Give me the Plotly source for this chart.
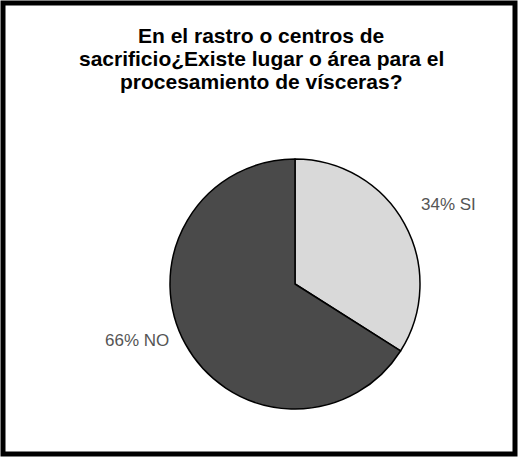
import math
import plotly.graph_objects as go

# Survey answers and their shares
labels = ["SI", "NO"]
values = [34, 66]
slice_colors = ["#d9d9d9", "#4a4a4a"]

title_lines = [
    "En el rastro o centros de",
    "sacrificio¿Existe lugar o área para el",
    "procesamiento de vísceras?",
]

W, H = 518, 457
FONT = "Liberation Sans, Arial"

# Pie placement in pixels
CX, CY, R = 295, 284, 125
LABEL_R = 142

fig = go.Figure(
    go.Pie(
        labels=labels,
        values=values,
        sort=False,
        direction="clockwise",
        rotation=0,
        marker=dict(colors=slice_colors, line=dict(color="#000000", width=1.5)),
        textinfo="none",
        hoverinfo="label+percent",
        showlegend=False,
        domain=dict(x=[(CX - R) / W, (CX + R) / W],
                    y=[(H - CY - R) / H, (H - CY + R) / H]),
    )
)

annotations = []

# Title, one bold line per annotation for tight line spacing
for i, line in enumerate(title_lines):
    mid_from_top = 35.5 + 23 * i
    annotations.append(dict(
        text="<b>" + line + "</b>",
        xref="paper", yref="paper",
        x=261 / W, y=1 - mid_from_top / H,
        xanchor="center", yanchor="middle",
        showarrow=False,
        font=dict(family=FONT, size=21, color="#000000"),
    ))

# Slice labels placed at each slice's mid angle (clockwise from 12 o'clock)
total = sum(values)
cum = 0
for lab, val in zip(labels, values):
    pct = 100 * val / total
    theta = 2 * math.pi * (cum + val / 2) / total
    cum += val
    px = CX + LABEL_R * math.sin(theta)
    py = CY - LABEL_R * math.cos(theta)
    annotations.append(dict(
        text=f"{pct:.0f}% {lab}",
        xref="paper", yref="paper",
        x=px / W, y=1 - py / H,
        xanchor="left" if math.sin(theta) >= 0 else "right",
        yanchor="bottom",
        showarrow=False,
        font=dict(family=FONT, size=17, color="#555555"),
    ))

fig.update_layout(
    width=W,
    height=H,
    margin=dict(l=0, r=0, t=0, b=0),
    paper_bgcolor="#ffffff",
    plot_bgcolor="#ffffff",
    font=dict(family=FONT),
    annotations=annotations,
    shapes=[
        dict(type="rect", xref="paper", yref="paper",
             x0=3 / W, x1=1 - 3 / W, y0=3 / H, y1=1 - 3 / H,
             line=dict(color="#000000", width=5)),
    ],
)

fig.write_html("out.html")
